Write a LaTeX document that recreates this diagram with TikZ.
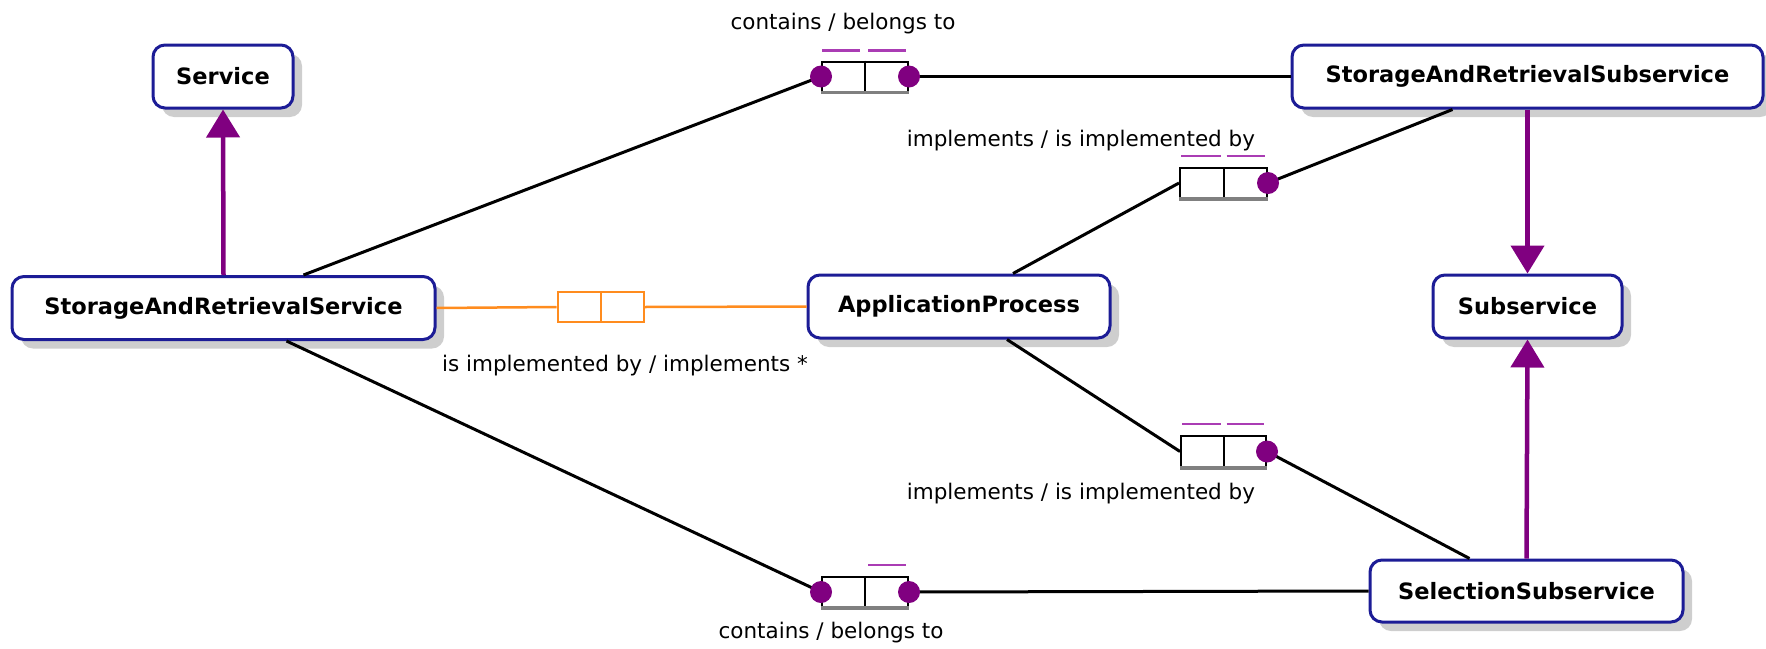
\documentclass[tikz,border=0pt]{standalone}
\usepackage{fontspec}
\setmainfont{DejaVu Sans}
\usetikzlibrary{arrows.meta,shadows}
\definecolor{navyc}{RGB}{28,28,150}
\definecolor{purplec}{RGB}{128,0,128}
\definecolor{barc}{RGB}{170,60,180}
\definecolor{orangec}{RGB}{255,140,30}
\tikzset{
  cls/.style={draw=navyc, line width=3pt, rounded corners=12pt, fill=white,
    minimum height=63pt, inner sep=0pt, font=\bfseries\fontsize{22.5}{26}\selectfont,
    drop shadow={shadow xshift=9pt, shadow yshift=-9pt, fill=gray!70, opacity=0.55}},
  relbox/.style={draw=black, line width=2pt, fill=white, minimum width=86pt,
    minimum height=30pt, inner sep=0pt},
  lbl/.style={font=\fontsize{21.5}{25}\selectfont, inner sep=0pt},
  conn/.style={draw=black, line width=3pt},
  oconn/.style={draw=orangec, line width=2.5pt},
  bar/.style={draw=barc, line width=2.5pt},
  inh/.style={draw=purplec, line width=4.5pt, -{Triangle[length=28pt 0, width=33pt 0]}},
}
\begin{document}
\begin{tikzpicture}[x=1pt,y=-1pt]
\useasboundingbox (0,0) rectangle (1766,648);
% classes
\node[cls, minimum width=140pt] (svc) at (223,76.5) {Service};
\node[cls, minimum width=423pt] (sars) at (223.5,308) {StorageAndRetrievalService};
\node[cls, minimum width=471pt] (sarsub) at (1527.5,76.5) {StorageAndRetrievalSubservice};
\node[cls, minimum width=189pt] (subs) at (1527.5,306.5) {Subservice};
\node[cls, minimum width=302pt] (ap) at (959,306.5) {ApplicationProcess};
\node[cls, minimum width=313pt, minimum height=62pt] (sel) at (1526.5,591) {SelectionSubservice};
% relation boxes
\node[relbox] (r1) at (865,76.5) {};
\node[relbox, minimum width=87pt] (r2) at (1223.5,183) {};
\node[relbox, draw=orangec] (r3) at (600.5,307) {};
\node[relbox, minimum width=85pt, minimum height=31pt] (r4) at (1223.5,451.5) {};
\node[relbox] (r5) at (865,592) {};
\draw[line width=2pt] (r1.north) -- (r1.south);
\draw[line width=3.5pt,gray] (r1.south west) -- (r1.south east);
\draw[line width=2pt] (r2.north) -- (r2.south);
\draw[line width=3.5pt,gray] (r2.south west) -- (r2.south east);
\draw[line width=2pt,orangec] (r3.north) -- (r3.south);
\draw[line width=2pt] (r4.north) -- (r4.south);
\draw[line width=3.5pt,gray] (r4.south west) -- (r4.south east);
\draw[line width=2pt] (r5.north) -- (r5.south);
\draw[line width=3.5pt,gray] (r5.south west) -- (r5.south east);
% multiplicity bars
\draw[bar] ([xshift=1pt,yshift=10pt]r1.north west) -- ([xshift=-5pt,yshift=10pt]r1.north);
\draw[bar] ([xshift=3pt,yshift=10pt]r1.north) -- ([xshift=-3pt,yshift=10pt]r1.north east);
\draw[bar] ([xshift=2pt,yshift=11pt]r2.north west) -- ([xshift=-3pt,yshift=11pt]r2.north);
\draw[bar] ([xshift=3pt,yshift=11pt]r2.north) -- ([xshift=-3pt,yshift=11pt]r2.north east);
\draw[bar] ([xshift=2pt,yshift=11pt]r4.north west) -- ([xshift=-3pt,yshift=11pt]r4.north);
\draw[bar] ([xshift=3pt,yshift=11pt]r4.north) -- ([xshift=-3pt,yshift=11pt]r4.north east);
\draw[bar] ([xshift=3pt,yshift=11pt]r5.north) -- ([xshift=-3pt,yshift=11pt]r5.north east);
% connectors
\draw[inh] (sars.north) -- (svc.south);
\draw[inh] (sarsub.south) -- (subs.north);
\draw[inh] (sel.north) -- (subs.south);
\draw[conn] ([xshift=80pt]sars.north) -- (r1.west);
\draw[conn] (r1.east) -- (sarsub.west);
\draw[conn] ([xshift=63pt]sars.south) -- (r5.west);
\draw[conn] (r5.east) -- (sel.west);
\draw[conn] ([xshift=54pt]ap.north) -- (r2.west);
\draw[conn] (r2.east) -- ([xshift=-75pt]sarsub.south);
\draw[conn] ([xshift=48pt]ap.south) -- (r4.west);
\draw[conn] (r4.east) -- ([xshift=-57pt]sel.north);
\draw[oconn] (sars.east) -- (r3.west);
\draw[oconn] (r3.east) -- (ap.west);
% role dots
\fill[purplec] (r1.west) circle (11pt);
\fill[purplec] (r1.east) circle (11pt);
\fill[purplec] (r2.east) circle (11pt);
\fill[purplec] (r4.east) circle (11pt);
\fill[purplec] (r5.west) circle (11pt);
\fill[purplec] (r5.east) circle (11pt);
% labels
\node[lbl] (l1) at (843,24) {contains / belongs to};
\node[lbl] (l2) at (1081,141) {implements / is implemented by};
\node[lbl] (l3) at (625,366) {is implemented by / implements *};
\node[lbl] (l4) at (1081,494) {implements / is implemented by};
\node[lbl] (l5) at (831,633) {contains / belongs to};
\end{tikzpicture}
\end{document}
